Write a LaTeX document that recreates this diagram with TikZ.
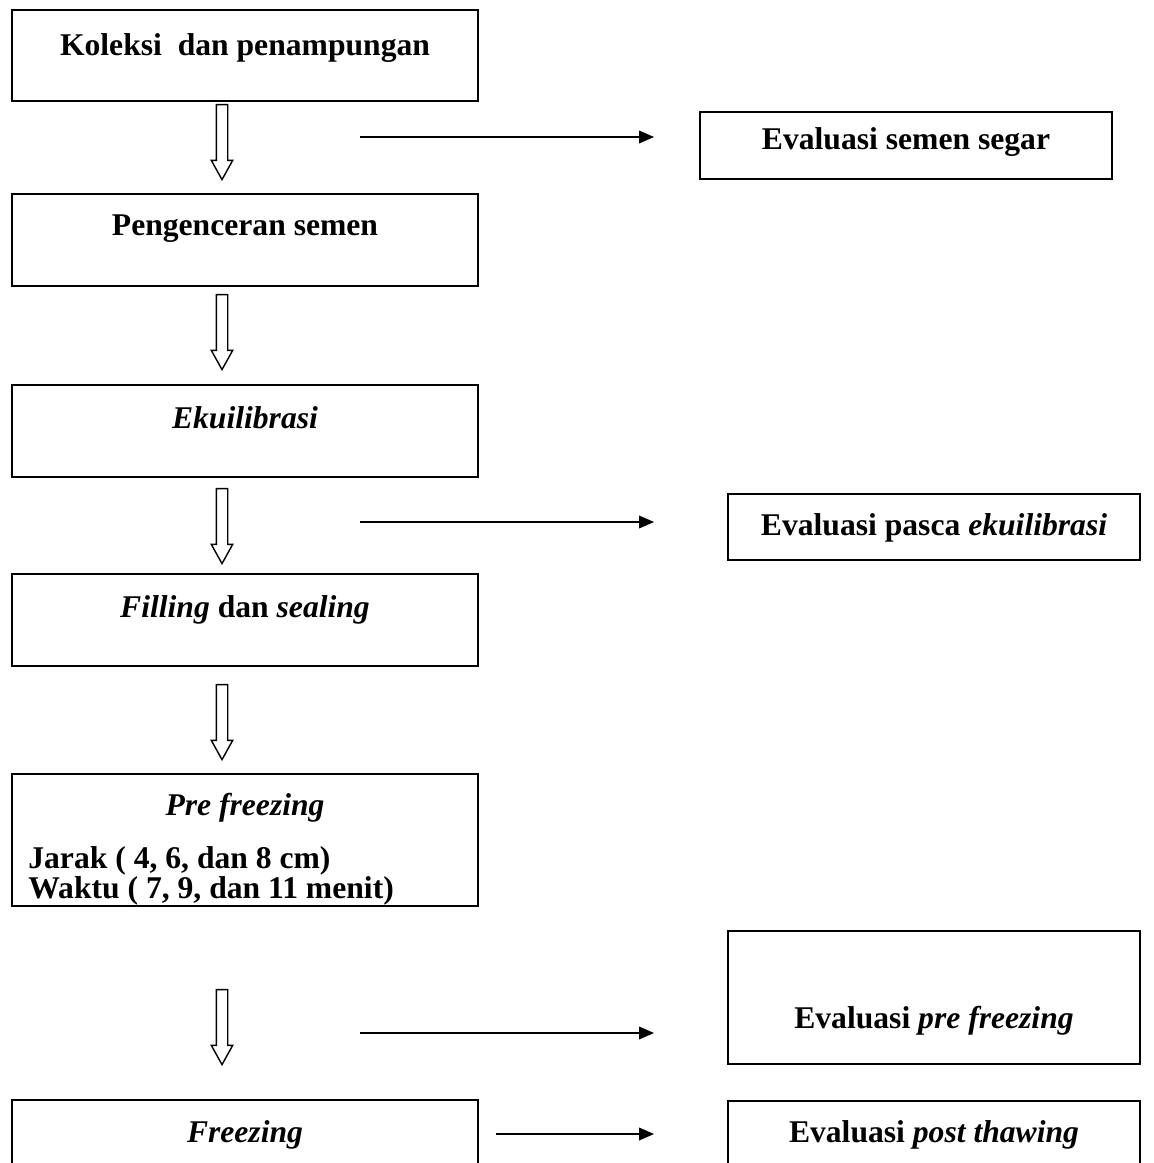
\documentclass[tikz,border=0pt]{standalone}
\usepackage{fontspec}
\setmainfont{Liberation Serif}
\usepackage{tikz}
\usetikzlibrary{arrows.meta,shapes.arrows}

\tikzset{
  stage/.style={draw, line width=1.1pt, inner sep=0pt, anchor=base,
    font=\fontsize{18}{21}\selectfont\bfseries},
  leftbox/.style={stage, minimum width=9.32cm},
  evalbox/.style={stage, minimum width=8.24cm},
  hollow/.style={single arrow, draw, line width=0.8pt, rotate=-90,
    inner sep=0.1cm, minimum height=1.5cm, single arrow head extend=0.1cm,
    single arrow tip angle=58},
  flow/.style={line width=1.1pt, -{Triangle[length=0.3cm,width=0.25cm]}},
  param/.style={anchor=base west, inner sep=0pt,
    font=\fontsize{18}{21}\selectfont\bfseries}
}

\begin{document}
\begin{tikzpicture}[x=0.02cm, y=-0.02cm]
  \useasboundingbox (0,0) rectangle (1153,1163);
  \clip (0,0) rectangle (1153,1163);

  \draw (245,55) node[leftbox, text height=0.90cm, text depth=0.92cm] (koleksi) {Koleksi\ \ dan penampungan};
  \draw (245,235) node[leftbox, text height=0.82cm, text depth=1.02cm] (pengenceran) {Pengenceran semen};
  \draw (245,428) node[leftbox, text height=0.86cm, text depth=0.98cm] (ekuilibrasi) {\textit{Ekuilibrasi}};
  \draw (245,617) node[leftbox, text height=0.86cm, text depth=0.98cm] (filling) {\textit{Filling} dan \textit{sealing}};
  \draw (245,815) node[leftbox, text height=0.82cm, text depth=1.82cm] (prefreezing) {\textit{Pre freezing}};
    \draw (28,868) node[param] (jarak) {Jarak ( 4, 6, dan 8 cm)};
    \draw (28,898) node[param] (waktu) {Waktu ( 7, 9, dan 11 menit)};
  \draw (245,1142) node[leftbox, text height=0.84cm, text depth=1.6cm] (freezing) {\textit{Freezing}};

  \draw (906,149) node[evalbox, text height=0.74cm, text depth=0.60cm] (segar) {Evaluasi semen segar};
  \draw (934,535) node[evalbox, text height=0.82cm, text depth=0.50cm] (pasca) {Evaluasi pasca \textit{ekuilibrasi}};
  \draw (934,1028) node[evalbox, text height=1.94cm, text depth=0.72cm] (evalpre) {Evaluasi \textit{pre freezing}};
  \draw (934,1142) node[evalbox, text height=0.82cm, text depth=1.2cm] (thawing) {Evaluasi \textit{post thawing}};

  \node[hollow] (down1) at (222,137) {};
  \node[hollow] (down2) at (222,327) {};
  \node[hollow] (down3) at (222,521) {};
  \node[hollow] (down4) at (222,717) {};
  \node[hollow] (down5) at (222,1022) {};

  \coordinate (t1) at (360,137);
  \coordinate (t2) at (360,522);
  \coordinate (t3) at (360,1033);
  \coordinate (t4) at (496,1134);
  \draw[flow, shorten >=0.9cm] (t1) -- (t1 -| segar.west);
  \draw[flow, shorten >=1.46cm] (t2) -- (t2 -| pasca.west);
  \draw[flow, shorten >=1.46cm] (t3) -- (t3 -| evalpre.west);
  \draw[flow, shorten >=1.46cm] (t4) -- (t4 -| thawing.west);
\end{tikzpicture}
\end{document}
